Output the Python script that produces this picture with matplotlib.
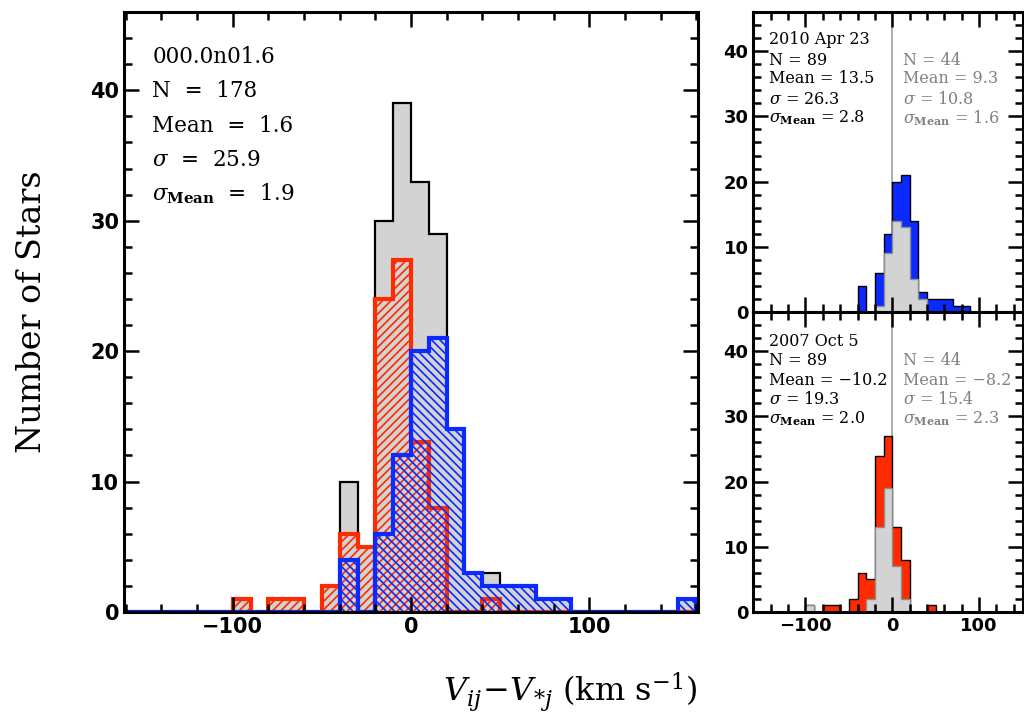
import numpy as np
import matplotlib
matplotlib.use("Agg")
import matplotlib.pyplot as plt
from matplotlib.ticker import MultipleLocator

plt.rcParams['font.family'] = ['DejaVu Serif']
plt.rcParams['mathtext.fontset'] = 'dejavuserif'
plt.rcParams['hatch.linewidth'] = 1.2

# bin edges, 10 km/s wide
edges = np.arange(-160, 170, 10)

# counts per bin, listed from -160 upward (32 bins)
# 2010 Apr 23 epoch (blue), N = 89
blue_counts = [0, 0, 0, 0, 0, 0, 0, 0, 0, 0, 0, 0, 4, 0, 6, 12,
               20, 21, 14, 3, 2, 2, 2, 1, 1, 0, 0, 0, 0, 0, 0, 1]
# 2007 Oct 5 epoch (red), N = 89
red_counts = [0, 0, 0, 0, 0, 0, 1, 0, 1, 1, 0, 2, 6, 5, 24, 27,
              13, 8, 0, 0, 1, 0, 0, 0, 0, 0, 0, 0, 0, 0, 0, 0]
# subsets of N = 44 shown in grey in the small panels
blue_sub = [0, 0, 0, 0, 0, 0, 0, 0, 0, 0, 0, 0, 0, 0, 1, 9,
            14, 13, 5, 2, 0, 0, 0, 0, 0, 0, 0, 0, 0, 0, 0, 0]
red_sub = [0, 0, 0, 0, 0, 0, 1, 0, 0, 0, 0, 0, 0, 2, 13, 19,
           7, 2, 0, 0, 0, 0, 0, 0, 0, 0, 0, 0, 0, 0, 0, 0]

main_stats = ["000.0n01.6", "N  =  178", "Mean  =  1.6",
              r"$\sigma$  =  25.9", r"$\sigma_{\mathbf{Mean}}$  =  1.9"]
top_stats = ["2010 Apr 23", "N = 89", "Mean = 13.5",
             r"$\sigma$ = 26.3", r"$\sigma_{\mathbf{Mean}}$ = 2.8"]
top_sub_stats = ["N = 44", "Mean = 9.3",
                 r"$\sigma$ = 10.8", r"$\sigma_{\mathbf{Mean}}$ = 1.6"]
bot_stats = ["2007 Oct 5", "N = 89", "Mean = \u221210.2",
             r"$\sigma$ = 19.3", r"$\sigma_{\mathbf{Mean}}$ = 2.0"]
bot_sub_stats = ["N = 44", "Mean = \u22128.2",
                 r"$\sigma$ = 15.4", r"$\sigma_{\mathbf{Mean}}$ = 2.3"]

RED = '#ff2a00'
BLUE = '#0a2aff'
GREY = '#d3d3d3'

total_counts = np.array(blue_counts) + np.array(red_counts)


def style_axes(ax, xlim, label_size, xlabels=True):
    ax.set_xlim(*xlim)
    ax.set_ylim(0, 46)
    ax.xaxis.set_major_locator(MultipleLocator(100))
    ax.xaxis.set_minor_locator(MultipleLocator(20))
    ax.yaxis.set_major_locator(MultipleLocator(10))
    ax.yaxis.set_minor_locator(MultipleLocator(2))
    ax.tick_params(which='both', direction='in', top=True, right=True, width=1.8)
    ax.tick_params(which='major', length=11)
    ax.tick_params(which='minor', length=6)
    for sp in ax.spines.values():
        sp.set_linewidth(2.2)
    for lab in ax.get_xticklabels() + ax.get_yticklabels():
        lab.set_fontfamily('DejaVu Sans')
        lab.set_fontweight('bold')
        lab.set_fontsize(label_size)
    if not xlabels:
        ax.tick_params(labelbottom=False)


fig = plt.figure(figsize=(10.24, 7.19), dpi=100)

# main panel
ax = fig.add_axes([0.1211, 0.1488, 0.5605, 0.8345])
ax.stairs(total_counts, edges, fill=True, facecolor=GREY, edgecolor='none')
ax.stairs(total_counts, edges, color='black', linewidth=1.6, baseline=None)
ax.stairs(red_counts, edges, fill=True, facecolor='none', edgecolor=RED,
          hatch='////', linewidth=3)
ax.stairs(blue_counts, edges, fill=True, facecolor='none', edgecolor=BLUE,
          hatch='\\\\\\\\', linewidth=3)
style_axes(ax, (-161, 161), 15)
ax.set_ylabel('Number of Stars', fontsize=24, labelpad=30)
ys = [0.925, 0.868, 0.81, 0.753, 0.698]
for s, y in zip(main_stats, ys):
    ax.text(0.049, y, s, transform=ax.transAxes, fontsize=15.5, va='center')

fig.text(0.557, 0.037, r'$V_{ij}\!-\!V_{*j}$ (km s$^{-1}$)', fontsize=23,
         ha='center', va='center')


def small_panel(rect, counts, sub, color, stats, sub_stats, ys, xlabels):
    a = fig.add_axes(rect)
    a.axvline(0, color='#a0a0a0', linewidth=1.2, zorder=0)
    a.stairs(counts, edges, fill=True, facecolor=color, edgecolor='black',
             linewidth=1.0)
    a.stairs(sub, edges, fill=True, facecolor=GREY, edgecolor='#8c8c8c',
             linewidth=1.0)
    style_axes(a, (-160, 151), 13, xlabels)
    for s, y in zip(stats, ys):
        a.text(0.058, y, s, transform=a.transAxes, fontsize=11.5, va='center')
    for s, y in zip(sub_stats, ys[1:]):
        a.text(0.555, y, s, transform=a.transAxes, fontsize=11.5, va='center',
               color='#808080')
    return a


small_panel([0.7357, 0.566, 0.2637, 0.4172], blue_counts, blue_sub, BLUE,
            top_stats, top_sub_stats, [0.907, 0.84, 0.777, 0.71, 0.647], False)
small_panel([0.7357, 0.1488, 0.2637, 0.4172], red_counts, red_sub, RED,
            bot_stats, bot_sub_stats, [0.903, 0.837, 0.773, 0.71, 0.643], True)

fig.savefig('out.png', dpi=100)
